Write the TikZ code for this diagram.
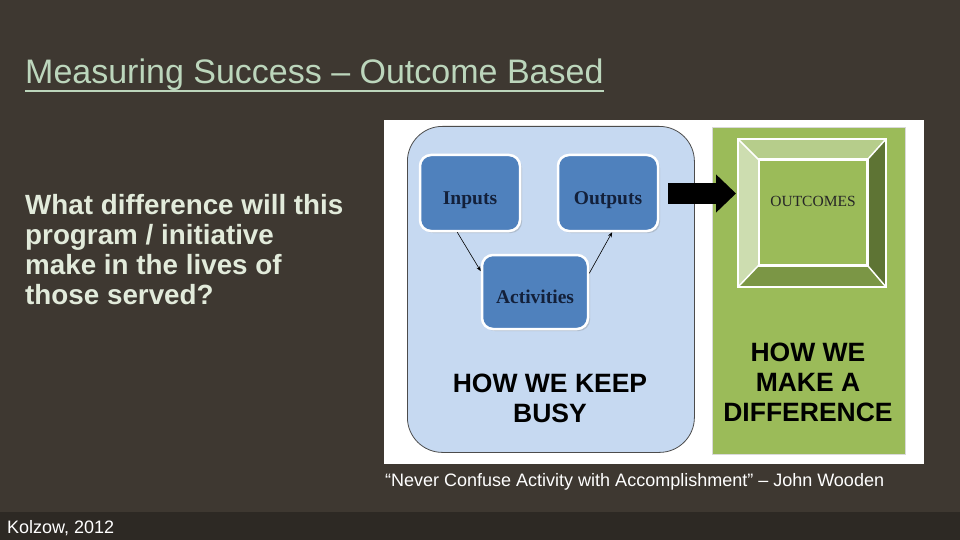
\documentclass[tikz,border=0pt]{standalone}
\usepackage{fontspec}
\setmainfont{Liberation Serif}
\setsansfont{Liberation Sans}
\usetikzlibrary{arrows.meta, shadows}
\definecolor{slateBg}{HTML}{3E3831}
\definecolor{slateBar}{HTML}{2D2924}
\definecolor{titleGreen}{HTML}{BCD6BC}
\definecolor{paleText}{HTML}{E2EBDB}
\definecolor{busyBlue}{HTML}{C6D9F1}
\definecolor{stepBlue}{HTML}{4F81BD}
\definecolor{navyText}{HTML}{13203A}
\definecolor{impactGreen}{HTML}{9BBB59}
\definecolor{bevelTop}{HTML}{B6CD8B}
\definecolor{bevelLeft}{HTML}{CDDDB0}
\definecolor{bevelRight}{HTML}{5E7434}
\definecolor{bevelBottom}{HTML}{7B9645}

\begin{document}
\begin{tikzpicture}[x=1pt, y=-1pt,
    blockbox/.style={draw=white, line width=2.5pt, fill=stepBlue, rounded corners=11pt,
        minimum width=100pt, minimum height=76pt, text=navyText,
        text height=23pt, text depth=0pt,
        font=\rmfamily\bfseries\fontsize{19.5}{21}\selectfont,
        drop shadow={opacity=0.3, shadow xshift=2pt, shadow yshift=-2pt}},
    bigcaps/.style={font=\sffamily\bfseries\fontsize{26.5}{30}\selectfont, align=center, text=black},
    slidetext/.style={inner sep=0pt, anchor=base west, align=left}]
    \fill[slateBg] (0,0) rectangle (960,540);
    \fill[slateBar] (0,512) rectangle (960,540);
    \useasboundingbox (0,0) rectangle (960,540);

    \node[slidetext, text=titleGreen, font=\sffamily\fontsize{34}{38}\selectfont] (title) at (25,84)
        {Measuring Success -- Outcome Based};
    \draw[titleGreen, line width=2.2pt] (title.south west) -- (title.south east);
    \node[slidetext, text=paleText, font=\sffamily\bfseries\fontsize{27.8}{30}\selectfont] (question) at (25,304)
        {What difference will this\\program / initiative\\make in the lives of\\those served?};

    \fill[white] (384,120) rectangle (924,464);
    \node[draw=black!70, line width=0.8pt, fill=busyBlue, rounded corners=35pt, anchor=north west,
        minimum width=287pt, minimum height=326pt] (busy) at (407,126) {};
    \node[draw=black!15, line width=0.6pt, fill=impactGreen, anchor=north west,
        minimum width=193pt, minimum height=327pt] (impact) at (712,127) {};

    \node[blockbox] (inputs) at (470,193) {Inputs};
    \node[blockbox] (outputs) at (608,193) {Outputs};
    \node[blockbox, minimum width=106pt, minimum height=74pt] (activities) at (535,292) {Activities};
    \draw[-{Stealth[length=5pt, width=4pt]}, line width=0.6pt] (inputs.252) -- (activities.159);
    \draw[-{Stealth[length=5pt, width=4pt]}, line width=0.6pt] (activities.19) -- (outputs.276);

    \node[bigcaps] (keepbusy) at (550,398) {HOW WE KEEP\\BUSY};
    \node[bigcaps] (difference) at (808,382) {HOW WE\\MAKE A\\DIFFERENCE};

    \node[draw=white, line width=1.5pt, minimum width=108pt, minimum height=105pt, inner sep=0pt] (face) at (813,212.5) {};
    \coordinate (onw) at (738,139);
    \coordinate (one) at (886,139);
    \coordinate (ose) at (886,287);
    \coordinate (osw) at (738,287);
    \fill[bevelTop] (onw) -- (one) -- (face.north east) -- (face.north west) -- cycle;
    \fill[bevelLeft] (onw) -- (face.north west) -- (face.south west) -- (osw) -- cycle;
    \fill[bevelRight] (one) -- (ose) -- (face.south east) -- (face.north east) -- cycle;
    \fill[bevelBottom] (osw) -- (face.south west) -- (face.south east) -- (ose) -- cycle;
    \draw[white, line width=2pt, line join=miter] (onw) -- (one) -- (ose) -- (osw) -- cycle;
    \draw[white, line width=1.5pt] (onw) -- (face.north west) (one) -- (face.north east)
        (ose) -- (face.south east) (osw) -- (face.south west);
    \draw[white, line width=1.5pt] (face.north west) rectangle (face.south east);
    \node[font=\rmfamily\fontsize{15.5}{17}\selectfont, text=black!85] (outcomes) at (813,201) {OUTCOMES};

    \coordinate (tail) at (668,193.5);
    \coordinate (tip) at (736,193.5);
    \draw[line width=21pt, -{Triangle[length=20pt, width=37pt]}] (tail) -- (tip);

    \node[slidetext, text=white, font=\sffamily\fontsize{18}{20}\selectfont] (quote) at (385,486)
        {``Never Confuse Activity with Accomplishment'' -- John Wooden};
    \node[slidetext, text=white, font=\sffamily\fontsize{18}{20}\selectfont] (source) at (7,533) {Kolzow, 2012};
\end{tikzpicture}
\end{document}
